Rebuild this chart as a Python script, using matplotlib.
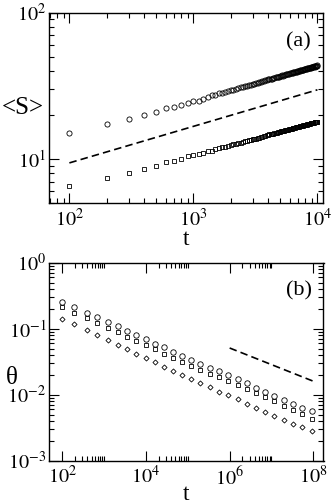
import math
import matplotlib
matplotlib.use('Agg')
import matplotlib.pyplot as plt
from matplotlib.ticker import FixedLocator, NullFormatter, FuncFormatter

plt.rcParams['font.family'] = ['Liberation Serif', 'DejaVu Serif']
plt.rcParams['mathtext.fontset'] = 'stix'

# ---------------- panel (a) data ----------------
t_a = [100, 200, 300, 400, 500, 600, 700, 800, 900, 1000,
       1100, 1200, 1300, 1400, 1500, 1600, 1700, 1800, 1900, 2000,
       2100, 2200, 2300, 2400, 2500, 2600, 2700, 2800, 2900, 3000,
       3100, 3200, 3300, 3400, 3500, 3600, 3700, 3800, 3900, 4000,
       4100, 4200, 4300, 4400, 4500, 4600, 4700, 4800, 4900, 5000,
       5100, 5200, 5300, 5400, 5500, 5600, 5700, 5800, 5900, 6000,
       6100, 6200, 6300, 6400, 6500, 6600, 6700, 6800, 6900, 7000,
       7100, 7200, 7300, 7400, 7500, 7600, 7700, 7800, 7900, 8000,
       8100, 8200, 8300, 8400, 8500, 8600, 8700, 8800, 8900, 9000,
       9100, 9200, 9300, 9400, 9500, 9600, 9700, 9800, 9900, 10000]

S_circles = [15.1, 17.4, 18.8, 20.1, 21.0, 22.2, 22.7, 23.3, 24.0, 24.8,
             25.1, 25.9, 26.5, 27.2, 27.5, 28.1, 28.3, 28.9, 29.1, 29.6,
             29.8, 30.3, 30.4, 31.0, 31.1, 31.6, 31.6, 32.1, 32.2, 32.7,
             32.7, 33.2, 33.2, 33.7, 33.7, 34.1, 34.1, 34.6, 34.6, 35.0,
             35.0, 35.4, 35.4, 35.8, 35.8, 36.2, 36.2, 36.6, 36.5, 36.9,
             36.9, 37.3, 37.2, 37.6, 37.6, 37.9, 37.9, 38.3, 38.2, 38.6,
             38.5, 38.9, 38.8, 39.2, 39.1, 39.5, 39.4, 39.7, 39.6, 40.0,
             39.9, 40.3, 40.2, 40.6, 40.4, 40.8, 40.6, 41.1, 40.9, 41.3,
             41.1, 41.6, 41.4, 41.8, 41.6, 42.0, 41.9, 42.3, 42.1, 42.5,
             42.3, 42.7, 42.6, 43.0, 42.8, 43.2, 43.1, 43.4, 43.3, 43.6]

S_squares = [6.52, 7.46, 8.04, 8.56, 8.97, 9.55, 9.66, 9.97, 10.4, 10.6,
             10.75, 11.05, 11.3, 11.4, 11.7, 11.8, 12.0, 12.1, 12.3, 12.4,
             12.6, 12.7, 12.85, 12.95, 13.1, 13.2, 13.35, 13.4, 13.55, 13.6,
             13.75, 13.8, 13.95, 14.0, 14.15, 14.2, 14.35, 14.4, 14.5, 14.55,
             14.7, 14.7, 14.85, 14.9, 15.0, 15.05, 15.15, 15.2, 15.3, 15.3,
             15.45, 15.45, 15.6, 15.6, 15.7, 15.75, 15.85, 15.85, 15.95, 16.0,
             16.1, 16.1, 16.2, 16.2, 16.3, 16.35, 16.45, 16.45, 16.55, 16.55,
             16.65, 16.7, 16.75, 16.8, 16.85, 16.9, 16.95, 17.0, 17.05, 17.1,
             17.15, 17.2, 17.25, 17.3, 17.35, 17.4, 17.4, 17.5, 17.5, 17.6,
             17.6, 17.65, 17.7, 17.75, 17.8, 17.85, 17.85, 17.95, 17.95, 18.0]

t_fit_a = [100, 10000]
S_fit = [9.4, 29.7]

# ---------------- panel (b) data ----------------
t_b = [100, 190, 380, 692, 1230, 2140, 3550, 5890, 9770,
       16600, 26900, 44700, 74100, 120000, 200000, 339000, 562000, 933000,
       1.55e6, 2.57e6, 4.27e6, 7.08e6, 1.17e7, 1.95e7, 3.31e7, 5.50e7, 9.33e7]

theta_circles = [0.254, 0.215, 0.175, 0.149, 0.126, 0.110, 0.0933, 0.0805, 0.0698,
                 0.0586, 0.0523, 0.0448, 0.0390, 0.0339, 0.0295, 0.0256, 0.0225, 0.0197,
                 0.0173, 0.0149, 0.0128, 0.0110, 0.00955, 0.00832, 0.00716, 0.00635, 0.00560]

theta_squares = [0.211, 0.175, 0.144, 0.122, 0.104, 0.0881, 0.0756, 0.0651, 0.0566,
                 0.0488, 0.0414, 0.0364, 0.0313, 0.0268, 0.0234, 0.0206, 0.0183, 0.0160,
                 0.0140, 0.0121, 0.0105, 0.00914, 0.00794, 0.00675, 0.00586, 0.00505, 0.00424]

theta_diamonds = [0.140, 0.118, 0.0955, 0.0811, 0.0675, 0.0572, 0.0488, 0.0418, 0.0356,
                  0.0313, 0.0266, 0.0226, 0.0197, 0.0171, 0.0149, 0.0129, 0.0110, 0.00982,
                  0.00851, 0.00731, 0.00628, 0.00552, 0.00475, 0.00418, 0.00360, 0.00321, 0.00285]

t_fit_b = [1e6, 1e8]
theta_fit = [0.051, 0.016]

# ---------------- figure ----------------
W, H = 332, 504
fig = plt.figure(figsize=(W / 100, H / 100), dpi=100)

def rect(l, r, t, b):
    return [l / W, 1 - b / H, (r - l) / W, (b - t) / H]

ax_a = fig.add_axes(rect(49, 323.5, 12.7, 203))
ax_b = fig.add_axes(rect(49, 323.5, 262.7, 460.7))

def pow_fmt(v, p):
    e = int(round(math.log10(v)))
    return r'$10^{%d}$' % e

mk = dict(linestyle='none', markerfacecolor='none', markeredgecolor='black',
          markeredgewidth=0.6)

# panel a
ax_a.plot(t_a, S_circles, marker='o', markersize=3.7, **mk)
ax_a.plot(t_a, S_squares, marker='s', markersize=3.3, **mk)
ax_a.plot(t_fit_a, S_fit, color='black', lw=1.2, dashes=(4.5, 2.5))
ax_a.set_xscale('log')
ax_a.set_yscale('log')
ax_a.set_xlim(68.5, 11200)
ax_a.set_ylim(5, 100)
ax_a.xaxis.set_major_locator(FixedLocator([1e2, 1e3, 1e4]))
ax_a.xaxis.set_minor_locator(FixedLocator([k * 10 ** n for n in (1, 2, 3) for k in range(2, 10)]))
ax_a.yaxis.set_major_locator(FixedLocator([1e1, 1e2]))
ax_a.yaxis.set_minor_locator(FixedLocator([k * 10 ** n for n in (0, 1) for k in range(2, 10)]))
ax_a.set_xlabel('t', fontsize=17, labelpad=-1)
ax_a.set_ylabel('<S>', fontsize=18, rotation=0, va='center', ha='center')
ax_a.yaxis.set_label_coords(-0.097, 0.5)
ax_a.text(0.91, 0.845, '(a)', transform=ax_a.transAxes, fontsize=16,
          ha='center', va='center')

# panel b
ax_b.plot(t_b, theta_circles, marker='o', markersize=3.9, **mk)
ax_b.plot(t_b, theta_squares, marker='s', markersize=3.2, **mk)
ax_b.plot(t_b, theta_diamonds, marker='D', markersize=2.6, **mk)
ax_b.plot(t_fit_b, theta_fit, color='black', lw=1.2, dashes=(4.5, 2.5))
ax_b.set_xscale('log')
ax_b.set_yscale('log')
ax_b.set_xlim(48.1, 1.75e8)
ax_b.set_ylim(1e-3, 1)
ax_b.xaxis.set_major_locator(FixedLocator([1e2, 1e4, 1e6, 1e8]))
ax_b.xaxis.set_minor_locator(FixedLocator([k * 10 ** n for n in (2, 4, 6) for k in range(2, 11)]))
ax_b.yaxis.set_major_locator(FixedLocator([1e-3, 1e-2, 1e-1, 1e0]))
ax_b.yaxis.set_minor_locator(FixedLocator([k * 10 ** n for n in (-3, -2, -1) for k in range(2, 10)]))
ax_b.set_xlabel('t', fontsize=17, labelpad=-4)
ax_b.set_ylabel('θ', fontsize=18, rotation=0, va='center', ha='center')
ax_b.yaxis.set_label_coords(-0.135, 0.42)
ax_b.text(0.91, 0.86, '(b)', transform=ax_b.transAxes, fontsize=16,
          ha='center', va='center')

for ax in (ax_a, ax_b):
    ax.xaxis.set_major_formatter(FuncFormatter(pow_fmt))
    ax.yaxis.set_major_formatter(FuncFormatter(pow_fmt))
    ax.xaxis.set_minor_formatter(NullFormatter())
    ax.yaxis.set_minor_formatter(NullFormatter())
    ax.tick_params(which='both', direction='in', top=True, right=True,
                   width=0.8, labelsize=14.5)
    ax.tick_params(which='major', length=7.5)
    ax.tick_params(which='minor', length=3.6)
    ax.tick_params(axis='x', which='major', pad=4)
    ax.tick_params(axis='y', which='major', pad=2)
    for s in ax.spines.values():
        s.set_linewidth(1.0)

fig.savefig('out.png', dpi=100)
